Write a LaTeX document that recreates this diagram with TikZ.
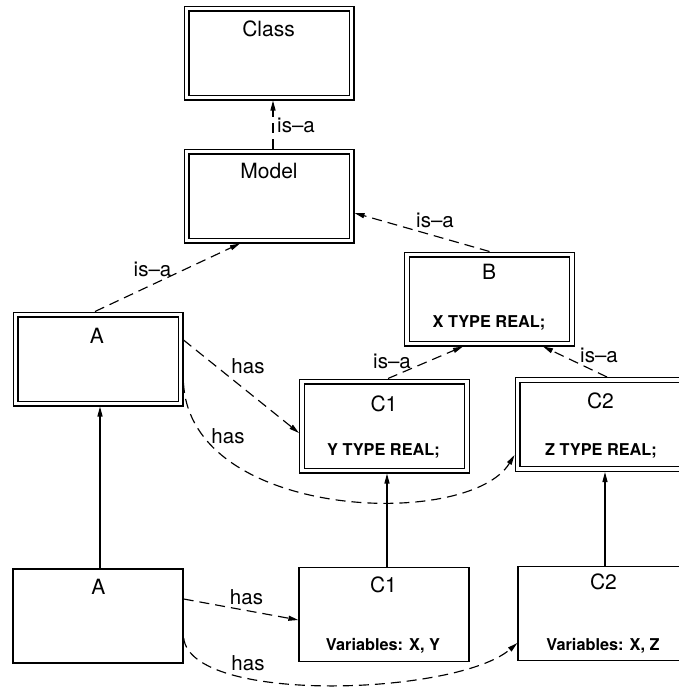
\documentclass[tikz,border=0pt]{standalone}
\usepackage{fontspec}
\setmainfont{TeX Gyre Heros}
\usetikzlibrary{arrows.meta}
\begin{document}
\begin{tikzpicture}[x=1pt,y=-1pt,
  dbox/.style={draw, line width=1.3pt, double, double distance=3.4pt, minimum width=165pt, minimum height=89pt, inner sep=0pt, outer sep=3pt},
  sbox/.style={draw, line width=1.3pt, minimum width=170pt, minimum height=94pt, inner sep=0pt},
  ttl/.style={font=\fontsize{21}{21}\selectfont, inner sep=0pt, anchor=base},
  code/.style={font=\fontsize{16.3}{16.3}\selectfont\bfseries, inner sep=0pt, anchor=base},
  lbl/.style={font=\fontsize{20.5}{20.5}\selectfont, inner sep=0pt, anchor=base},
  isa/.style={line width=1.15pt, dash pattern=on 10pt off 6pt, -{Triangle[length=10pt,width=5pt]}},
  sol/.style={line width=1.15pt, -{Triangle[length=10pt,width=5pt]}},
]
\useasboundingbox (0,0) rectangle (679,694);
% boxes
\node[dbox] (Class) at (269,53) {};
\node[dbox] (Model) at (269,196) {};
\node[dbox] (B) at (489.5,299) {};
\node[dbox] (Ad) at (98,359) {};
\node[dbox] (C1d) at (384.5,426) {};
\node[dbox] (C2d) at (600,424.5) {};
\node[sbox] (Ab) at (98,616) {};
\node[sbox] (C1b) at (384,614.5) {};
\node[sbox] (C2b) at (603,613.5) {};
% texts
\node[ttl] (tClass) at (268.5,36.1) {Class};
\node[ttl] (tModel) at (269,178.6) {Model};
\node[ttl] (tB) at (489,279.6) {B};
\node[code] (cB) at (489,327.9) {X TYPE REAL;};
\node[ttl] (tAd) at (97,343.6) {A};
\node[ttl] (tC1d) at (384,411.1) {C1};
\node[code] (cC1d) at (383.5,455.9) {Y TYPE REAL;};
\node[ttl] (tC2d) at (600.5,408.1) {C2};
\node[code] (cC2d) at (601,455.4) {Z TYPE REAL;};
\node[ttl] (tAb) at (98.5,594.6) {A};
\node[ttl] (tC1b) at (383.5,592.1) {C1};
\node[code] (vC1b) at (383,650.9) {Variables: X, Y};
\node[ttl] (tC2b) at (603.5,589.1) {C2};
\node[code] (vC2b) at (603,650.4) {Variables: X, Z};
% is-a connectors
\draw[isa] ([xshift=4pt]Model.north) -- ([xshift=4pt]Class.south);
\node[lbl] (l1) at (296,132) {is--a};
\draw[isa] ([xshift=-3pt]Ad.north) -- ([xshift=-29pt]Model.south);
\node[lbl] (l2) at (152.5,276.7) {is--a};
\draw[isa] (B.north) -- ([yshift=-17pt]Model.east);
\node[lbl] (l3) at (435,227) {is--a};
\draw[isa] ([xshift=3.5pt]C1d.north) -- ([xshift=-26.5pt]B.south);
\node[lbl] (l4) at (392,368) {is--a};
\draw[isa] ([xshift=7pt]C2d.north) -- ([xshift=53.5pt]B.south);
\node[lbl] (l5) at (599,362) {is--a};
% has connectors
\draw[isa] ([yshift=19pt]Ad.east) -- ([yshift=-7pt]C1d.west);
\node[lbl] (h1) at (248,373) {has};
\draw[isa] ([yshift=-24pt]Ad.east) .. controls +(7,137) and +(-46,75) .. ([yshift=-30.5pt]C2d.west);
\node[lbl] (h2) at (228,443) {has};
\draw[isa] ([yshift=17pt]Ab.east) -- ([yshift=-5.5pt]C1b.west);
\node[lbl] (h3) at (246.5,604) {has};
\draw[isa] ([yshift=-22pt]Ab.east) .. controls +(8,67) and +(-60,52) .. ([yshift=-29.5pt]C2b.west);
\node[lbl] (h4) at (248,670) {has};
% solid connectors
\draw[sol] ([xshift=2pt]Ab.north) -- ([xshift=2pt]Ad.south);
\draw[sol] ([xshift=3pt]C1b.north) -- ([xshift=2.5pt]C1d.south);
\draw[sol] ([xshift=2pt]C2b.north) -- ([xshift=5pt]C2d.south);
\end{tikzpicture}
\end{document}
